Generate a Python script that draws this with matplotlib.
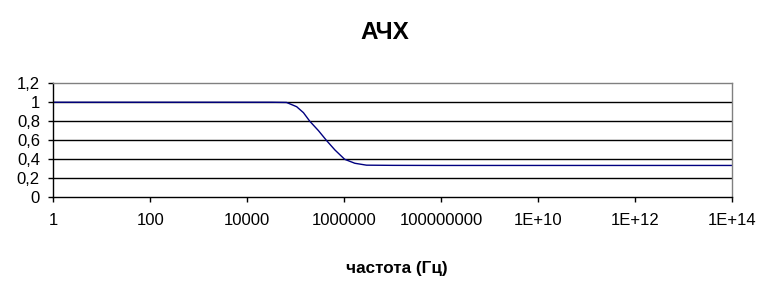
import matplotlib
matplotlib.use("Agg")
import matplotlib.pyplot as plt
from matplotlib.ticker import FixedLocator, NullLocator

plt.rcParams['font.family'] = ['Liberation Sans', 'DejaVu Sans']

# data (frequency in Hz, amplitude ratio)
freq_log10 = [0, 2, 4, 4.5, 4.81, 5.02, 5.16, 5.29, 5.47, 5.64, 5.81, 6.01, 6.22, 6.46, 7, 8, 10, 12, 14]
amplitude = [1.0, 1.0, 1.0, 1.0, 0.998, 0.953, 0.89, 0.80, 0.70, 0.594, 0.496, 0.398, 0.356, 0.336, 0.334, 0.333, 0.333, 0.333, 0.333]
freq = [10.0 ** v for v in freq_log10]

x_ticks = [1, 1e2, 1e4, 1e6, 1e8, 1e10, 1e12, 1e14]
x_tick_labels = ["1", "100", "10000", "1000000", "100000000", "1E+10", "1E+12", "1E+14"]
y_ticks = [0, 0.2, 0.4, 0.6, 0.8, 1.0, 1.2]
y_tick_labels = ["0", "0,2", "0,4", "0,6", "0,8", "1", "1,2"]

title = "АЧХ"
xlabel = "частота (Гц)"

W, H = 769, 298
fig = plt.figure(figsize=(W / 100, H / 100), dpi=100)
left, right, top, bottom = 53.3, 732, 83.3, 197
ax = fig.add_axes([left / W, 1 - bottom / H, (right - left) / W, (bottom - top) / H])

ax.plot(freq, amplitude, color="#000080", lw=1.0)
ax.set_xscale("log")
ax.set_xlim(1, 1e14)
ax.set_ylim(0, 1.2)

ax.xaxis.set_major_locator(FixedLocator(x_ticks))
ax.xaxis.set_minor_locator(NullLocator())
ax.set_xticks(x_ticks)
ax.set_xticklabels(x_tick_labels)
ax.set_yticks(y_ticks)
ax.set_yticklabels(y_tick_labels)

for yv in y_ticks[1:-1]:
    ax.axhline(yv, color="black", lw=1.0, zorder=0)

ax.tick_params(axis="both", direction="out", length=3.6, width=1, colors="black", labelsize=12)
ax.tick_params(axis="x", pad=8)
ax.tick_params(axis="y", pad=6)
ax.spines["left"].set_color("black")
ax.spines["bottom"].set_color("black")
ax.spines["top"].set_color("#808080")
ax.spines["right"].set_color("#808080")
for s in ax.spines.values():
    s.set_linewidth(1.0)

fig.text(385 / W, 1 - 32.5 / H, title, ha="center", va="center", fontsize=17.5, fontweight="bold")
fig.text(397 / W, 1 - 269 / H, xlabel, ha="center", va="center", fontsize=12.3, fontweight="bold")

fig.savefig("out.png", dpi=100)
